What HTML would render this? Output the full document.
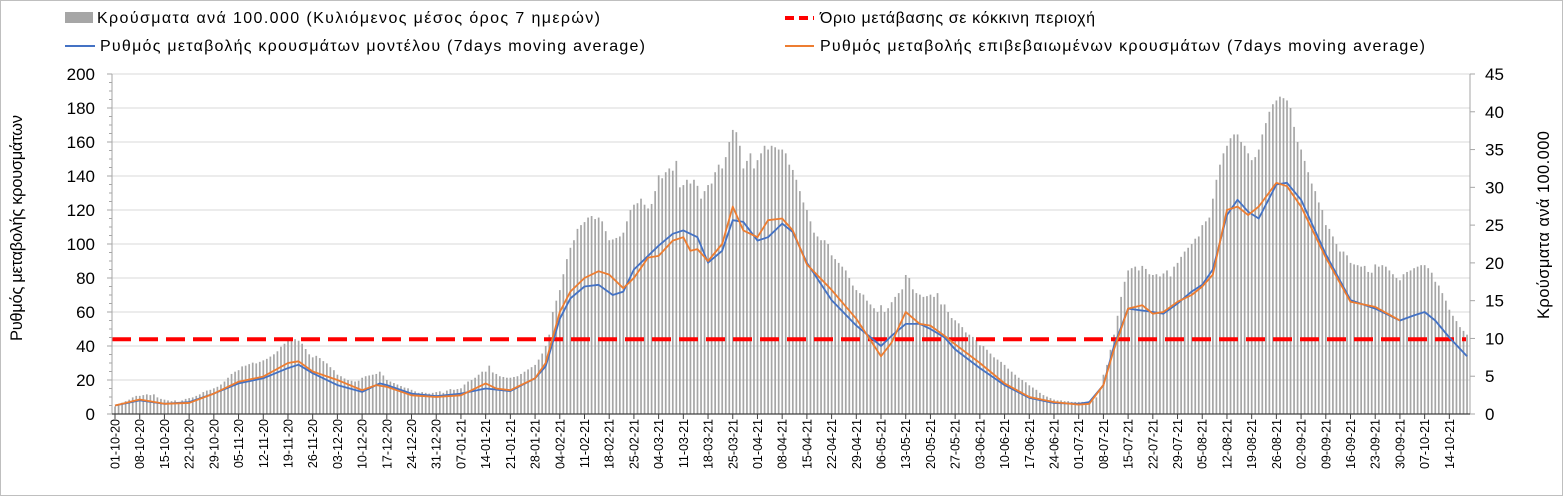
<!DOCTYPE html>
<html><head><meta charset="utf-8"><style>
html,body{margin:0;padding:0;background:#fff;}
svg{display:block;font-family:"Liberation Sans","DejaVu Sans",sans-serif;}
</style></head><body>
<svg id="chart" width="1563" height="496" viewBox="0 0 1563 496" xmlns="http://www.w3.org/2000/svg">
<rect x="0.5" y="0.5" width="1562" height="495" fill="#fff" stroke="#bfbfbf"/>
<g id="grid"></g>
<g id="bars"></g>
<g id="lines"></g>
<g id="axes"></g>
<g font-size="16" fill="#000">
  <g><rect x="65" y="12" width="28" height="11" fill="#a6a6a6"/><text x="97" y="23" textLength="503" lengthAdjust="spacing">Κρούσματα ανά 100.000 (Κυλιόμενος μέσος όρος 7 ημερών)</text></g>
  <g><line x1="785" y1="18" x2="814" y2="18" stroke="#ff0000" stroke-width="4" stroke-dasharray="9,5"/><text x="820" y="23" textLength="275" lengthAdjust="spacing">Όριο μετάβασης σε κόκκινη περιοχή</text></g>
  <g><line x1="65" y1="46" x2="95" y2="46" stroke="#4472c4" stroke-width="2"/><text x="100" y="51" textLength="545" lengthAdjust="spacing">Ρυθμός μεταβολής κρουσμάτων μοντέλου (7days moving average)</text></g>
  <g><line x1="785" y1="46" x2="814" y2="46" stroke="#ed7d31" stroke-width="2"/><text x="820" y="51" textLength="605" lengthAdjust="spacing">Ρυθμός μεταβολής επιβεβαιωμένων κρουσμάτων (7days moving average)</text></g>
</g>
<text transform="translate(22,228) rotate(-90)" text-anchor="middle" font-size="16.5" textLength="226" lengthAdjust="spacing">Ρυθμός μεταβολής κρουσμάτων</text>
<text transform="translate(1549,225) rotate(-90)" text-anchor="middle" font-size="16.5" textLength="188" lengthAdjust="spacing">Κρούσματα ανά 100.000</text>
</svg>
<script>
const dateLabels = ["01-10-20","08-10-20","15-10-20","22-10-20","29-10-20","05-11-20","12-11-20","19-11-20","26-11-20","03-12-20","10-12-20","17-12-20","24-12-20","31-12-20","07-01-21","14-01-21","21-01-21","28-01-21","04-02-21","11-02-21","18-02-21","25-02-21","04-03-21","11-03-21","18-03-21","25-03-21","01-04-21","08-04-21","15-04-21","22-04-21","29-04-21","06-05-21","13-05-21","20-05-21","27-05-21","03-06-21","10-06-21","17-06-21","24-06-21","01-07-21","08-07-21","15-07-21","22-07-21","29-07-21","05-08-21","12-08-21","19-08-21","26-08-21","02-09-21","09-09-21","16-09-21","23-09-21","30-09-21","07-10-21","14-10-21"];
const leftTicks = [0,20,40,60,80,100,120,140,160,180,200];
const rightTicks = [0,5,10,15,20,25,30,35,40,45];
const redThreshold = 44;
const casesPer100k = [
1.0,1.2,1.5,1.7,1.9,2.2,2.4, 2.4,2.5,2.6,2.5,2.6,2.2,2.0, 1.9,1.8,1.7,1.8,1.6,1.8,2.0, 2.1,2.2,2.4,2.6,2.9,3.1,3.2,
3.4,3.6,3.9,4.3,4.8,5.3,5.6, 5.8,6.3,6.4,6.6,6.8,6.7,6.9, 7.1,7.3,7.6,7.9,8.3,8.9,9.3, 9.8,10.0,9.9,9.7,9.3,8.6,7.9,
7.5,7.7,7.4,7.0,6.7,6.2,5.8, 5.2,5.0,4.7,4.5,4.4,4.3,4.4, 4.8,5.0,5.1,5.2,5.3,5.6,5.1, 4.5,4.3,4.1,3.9,3.7,3.5,3.4,
3.2,3.0,2.8,2.9,2.8,2.7,2.8, 2.9,3.0,2.8,3.1,3.3,3.2,3.3, 3.4,3.9,4.3,4.5,4.8,5.2,5.6, 5.6,6.4,5.5,5.3,5.0,4.9,4.8,
4.8,4.9,5.0,5.3,5.6,5.9,6.2, 6.5,7.2,8.0,9.0,10.5,13.5,15.0, 16.4,18.5,20.5,22.0,23.0,24.5,25.0, 25.4,26.0,26.2,25.8,26.0,25.5,24.2,
23.0,23.1,23.3,23.5,24.0,25.5,27.0, 27.7,27.9,28.5,27.7,27.2,27.8,29.5, 31.6,31.2,32.0,32.5,32.2,33.5,30.0, 30.3,31.0,30.5,31.0,30.2,28.5,29.5,
30.3,30.5,32.0,33.0,32.5,34.0,36.0, 37.6,37.3,35.5,32.5,33.5,34.5,32.5, 33.6,34.5,35.5,35.0,35.5,35.3,35.0, 35.0,34.5,33.0,32.3,31.0,29.5,28.0,
27.0,25.5,24.0,23.5,23.0,23.0,22.5, 21.0,20.5,20.0,19.5,19.0,18.0,17.0, 16.4,16.0,15.8,15.0,14.5,14.0,13.5, 14.4,13.5,14.0,14.8,15.5,16.0,16.5,
18.4,18.0,16.5,16.0,15.8,15.5,15.6, 15.8,15.5,16.0,14.5,14.5,13.5,12.7, 12.4,12.0,11.5,10.8,10.5,10.2,9.8, 9.1,9.0,8.5,8.0,7.5,7.2,6.9,
6.5,6.0,5.6,5.2,4.8,4.5,4.2, 3.8,3.5,3.2,2.8,2.5,2.3,2.1, 1.9,1.8,1.8,1.7,1.7,1.6,1.6, 1.6,1.6,1.6,1.7,1.8,2.2,3.2,
5.2,6.5,8.5,10.5,13.0,15.5,17.5, 19.0,19.3,19.5,19.0,19.6,19.2,18.5, 18.4,18.5,18.2,18.6,19.0,18.2,19.5, 20.0,20.8,21.5,22.0,22.5,23.2,23.5,
25.0,25.5,26.0,28.5,31.0,33.0,34.5, 35.5,36.5,37.0,37.0,36.0,35.5,34.5, 33.6,34.0,35.0,37.0,38.5,40.0,41.0, 41.5,42.0,41.8,41.5,40.5,38.0,36.0,
35.0,33.5,32.0,30.5,29.5,28.0,27.0, 25.0,24.5,23.5,22.5,21.5,21.5,21.0, 20.0,19.8,19.7,19.5,19.6,18.8,18.7, 19.8,19.5,19.7,19.5,19.0,18.5,18.0,
17.7,18.5,18.8,19.0,19.3,19.5,19.7, 19.7,19.3,18.7,17.5,17.0,16.0,15.0, 13.8,13.0,12.3,11.5,11.0,10.5];
const modelDays = [0,7,14,21,28,35,42,49,52,56,63,70,75,77,84,91,98,105,112,119,122,126,129,133,137,141,144,147,154,158,161,165,168,172,175,178,182,185,189,192,196,203,210,217,220,224,228,231,235,238,245,252,259,266,273,276,280,283,287,294,297,301,305,308,311,315,318,321,324,329,332,336,343,350,357,364,368,371,374,378,383];
const modelRate = [5,8,6,7,12,18,21,27,29,24,17,13,18,17,12,10.5,12,15,13.5,21,28,56,68,75,76,70,72,85,99,106,108,104,89,96,114,113,102,104,112,107,89,67,52,40,46,53,53,50,45,38,27,17,9.5,6.5,6,7,17,40,62,60,59,65,72,76,85,117,126,119,115,135,136,126,94,67,62,55,58,60,55,45,34];
const confirmedDays = [0,7,14,21,28,35,42,49,52,56,63,70,74,77,84,91,98,105,108,112,119,122,126,129,133,137,140,144,147,151,154,158,161,163,165,168,172,175,178,182,185,189,192,196,203,210,217,220,224,228,231,235,238,245,252,259,266,273,276,280,283,287,291,294,297,301,305,308,311,315,318,321,324,329,332,336,343,350,357,364];
const confirmedRate = [5,8.5,6,6.5,12,19,22,30,31,25,20,14,17,16,11,10,11,18,15,14,21,30,60,72,80,84,82,74,80,92,93,102,104,96,97,90,100,122,108,104,114,115,108,88,73,56,34,42,60,53,52,46,41,30,18,10,7,5.5,6,17,38,62,64,59,60,66,70,75,82,120,122,117,122,136,134,122,92,66,63,55];

const NS = "http://www.w3.org/2000/svg";
const X0 = 115, DAYPX = 3.53, YB = 414, YT = 74, XL = 112, XR = 1470;
const xDay = d => X0 + d * DAYPX;
const yLeft = v => YB - (v / 200) * (YB - YT);
const yRight = v => YB - (v / 45) * (YB - YT);
function mk(tag, attrs, parent) { const e = document.createElementNS(NS, tag); for (const k in attrs) e.setAttribute(k, attrs[k]); parent.appendChild(e); return e; }

const grid = document.getElementById('grid');
leftTicks.forEach(t => {
  if (t === 0) return;
  const g = mk('line', {x1: XL, x2: XR, y1: yLeft(t), y2: yLeft(t), stroke: '#d9d9d9', 'stroke-width': 1}, grid);
  
  
});

const bars = document.getElementById('bars');
casesPer100k.forEach((v, i) => {
  const r = mk('rect', {x: xDay(i) - 0.8, y: yRight(v), width: 1.7, height: YB - yRight(v), fill: '#a6a6a6'}, bars);
  
  
});

const lines = document.getElementById('lines');
const red = mk('line', {x1: XL, x2: XR - 4, y1: yLeft(redThreshold), y2: yLeft(redThreshold), stroke: '#ff0000', 'stroke-width': 4, 'stroke-dasharray': '19,8'}, lines);


const mp = mk('polyline', {points: modelDays.map((d, i) => xDay(d) + ',' + yLeft(modelRate[i])).join(' '), fill: 'none', stroke: '#4472c4', 'stroke-width': 1.8, 'stroke-linejoin': 'round'}, lines);


const cp = mk('polyline', {points: confirmedDays.map((d, i) => xDay(d) + ',' + yLeft(confirmedRate[i])).join(' '), fill: 'none', stroke: '#ed7d31', 'stroke-width': 1.8, 'stroke-linejoin': 'round'}, lines);


lines.insertBefore(mp, cp);

const axes = document.getElementById('axes');
mk('line', {x1: XL, x2: XL, y1: YT, y2: YB, stroke: '#a6a6a6'}, axes);
mk('line', {x1: XR, x2: XR, y1: YT, y2: YB, stroke: '#a6a6a6'}, axes);
mk('line', {x1: XL, x2: XR, y1: YB, y2: YB, stroke: '#404040', 'stroke-width': 1.2}, axes);
for (let m = 0; m <= 200; m += 5) {
  const y = yLeft(m);
  mk('line', {x1: XL - (m % 20 === 0 ? 5 : 3), x2: XL, y1: y, y2: y, stroke: '#a6a6a6'}, axes);
}
leftTicks.forEach(t => {
  const y = yLeft(t);
  const tx = mk('text', {x: 95, y: y + 6, 'text-anchor': 'end', 'font-size': 17, fill: '#000'}, axes);
  tx.textContent = t;
  
  
});
rightTicks.forEach(t => {
  const y = yRight(t);
  mk('line', {x1: XR, x2: XR + 5, y1: y, y2: y, stroke: '#a6a6a6'}, axes);
  const tx = mk('text', {x: 1485, y: y + 6, 'text-anchor': 'start', 'font-size': 17, fill: '#000'}, axes);
  tx.textContent = t;
  
  
});
dateLabels.forEach((lab, k) => {
  const x = xDay(k * 7);
  mk('line', {x1: x, x2: x, y1: YB, y2: YB + 5, stroke: '#404040'}, axes);
  const tx = mk('text', {transform: 'translate(' + (x + 4.5) + ',419) rotate(-90)', 'text-anchor': 'end', 'font-size': 12.5, fill: '#000'}, axes);
  tx.textContent = lab;
  
  
});
</script>
</body></html>
